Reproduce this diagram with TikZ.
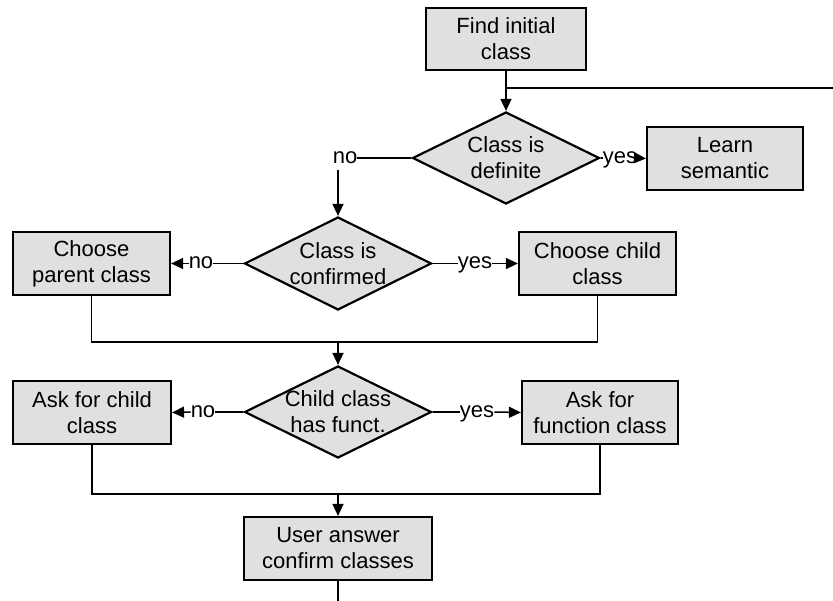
\documentclass[tikz,border=0pt]{standalone}
\usepackage{fontspec}
\setmainfont{Liberation Sans}
\usetikzlibrary{shapes.geometric,arrows.meta}
\definecolor{boxgray}{RGB}{224,224,224}
\newcommand\mainfs{\fontsize{22}{26}\selectfont}
\begin{document}
\begin{tikzpicture}[x=1pt,y=-1pt,
  box/.style={draw,line width=2.2pt,fill=boxgray,minimum width=157pt,minimum height=63pt,inner sep=0pt,align=center,font=\mainfs},
  dia/.style={draw,line width=2.2pt,fill=boxgray,diamond,minimum width=187pt,minimum height=93pt,inner sep=0pt},
  dtxt/.style={align=center,font=\mainfs,inner sep=0pt},
  lab/.style={font=\mainfs,inner sep=0pt,text height=11pt,text depth=0pt},
  conn/.style={line width=1.5pt},
  arr/.style={conn,-{Triangle[length=12pt,width=11pt]}}
]
\useasboundingbox (0,0) rectangle (833,601);
% nodes
\node[box,minimum width=160pt,minimum height=62pt] (fi) at (506,39) {Find initial\\class};
\node[dia,minimum height=92pt] (d1) at (506,158) {};
\node[dtxt] (d1t) at (d1) {Class is\\definite};
\node[box,minimum width=156pt] (ls) at (725,158.5) {Learn\\semantic};
\node[dia] (d2) at (338,263.5) {};
\node[dtxt] (d2t) at (d2) {Class is\\confirmed};
\node[box] (pc) at (91.5,263.5) {Choose\\parent class};
\node[box] (cc) at (597.5,263.5) {Choose child\\class};
\node[dia,minimum height=92pt] (d3) at (338,412) {};
\node[dtxt] (d3t) at (d3) {Child class\\has funct.};
\node[box,minimum width=158pt] (ac) at (92,412.5) {Ask for child\\class};
\node[box,minimum width=156pt] (af) at (600,412.5) {Ask for\\function class};
\node[box,minimum width=188pt] (ua) at (338,548.5) {User answer\\confirm classes};
% labels
\node[lab] (no1) at (345,158) {no};
\node[lab] (yes1) at (620,158) {yes};
\node[lab] (no2) at (201,263.5) {no};
\node[lab] (yes2) at (475,263.5) {yes};
\node[lab] (no3) at (203,412) {no};
\node[lab] (yes3) at (477,412) {yes};
% coordinates
\coordinate (j1) at (506,88);
\coordinate (rt) at (833,88);
\coordinate (m1) at (338,342);
\coordinate (m2) at (338,494);
\coordinate (bot) at (338,601);
% connectors
\draw[arr] (fi.south) -- (d1.north);
\draw[conn] (j1) -- (rt);
\draw[conn] (d1.west) -- (no1.east);
\draw[arr,shorten <=6pt] (no1.south -| d2.north) -- (d2.north);
\draw[conn] (d1.east) -- (yes1.west);
\draw[arr] (yes1.east) -- (ls.west);
\draw[conn] (d2.west) -- (no2.east);
\draw[arr] (no2.west) -- (pc.east);
\draw[conn] (d2.east) -- (yes2.west);
\draw[arr] (yes2.east) -- (cc.west);
\draw[conn] (pc.south) |- (cc.south |- m1) -- (cc.south);
\draw[arr] (m1) -- (d3.north);
\draw[conn] (d3.west) -- (no3.east);
\draw[arr] (no3.west) -- (ac.east);
\draw[conn] (d3.east) -- (yes3.west);
\draw[arr] (yes3.east) -- (af.west);
\draw[conn] (ac.south) |- (af.south |- m2) -- (af.south);
\draw[arr] (m2) -- (ua.north);
\draw[conn] (ua.south) -- (bot);
\end{tikzpicture}
\end{document}
